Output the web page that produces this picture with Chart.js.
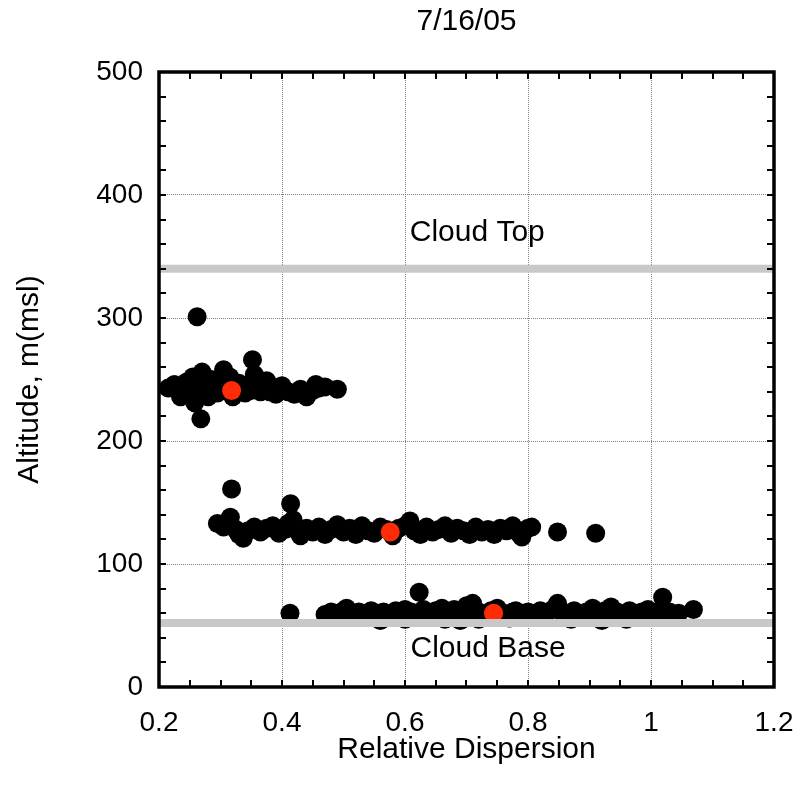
<!DOCTYPE html>
<html>
<head>
<meta charset="utf-8">
<style>
  html, body { margin: 0; padding: 0; background: #ffffff; }
  #wrap { width: 801px; height: 799px; position: relative; }
</style>
<script src="https://cdn.jsdelivr.net/npm/chart.js@4.4.1/dist/chart.umd.min.js"></script>
</head>
<body>
<div id="wrap"><canvas id="c" width="801" height="799"></canvas></div>
<script>
// ---- Data ----
const chartTitle = "7/16/05";
const xAxisTitle = "Relative Dispersion";
const yAxisTitle = "Altitude, m(msl)";

const xTicks = [0.2, 0.4, 0.6, 0.8, 1.0, 1.2];
const yTicks = [0, 100, 200, 300, 400, 500];

// Black points: cluster near 240 m
const upperX = [0.215,0.225,0.235,0.235,0.24,0.245,0.25,0.255,0.258,0.262,0.265,0.268,0.27,0.275,0.28,0.285,0.29,0.295,0.30,0.305,0.31,0.315,0.32,0.325,0.33,0.335,0.34,0.345,0.35,0.352,0.355,0.36,0.365,0.37,0.375,0.38,0.385,0.39,0.395,0.40,0.41,0.42,0.43,0.44,0.45,0.455,0.46,0.47,0.49];
const upperY = [243,246,241,236,238,248,244,252,231,301,240,218,256,247,236,250,242,239,246,258,244,252,236,240,247,243,239,245,241,266,254,246,240,243,249,240,244,238,242,245,240,238,242,236,241,246,243,244,242];

// Black points: cluster near 128 m
const middleX = [0.295,0.305,0.316,0.318,0.325,0.33,0.337,0.345,0.355,0.365,0.375,0.385,0.395,0.405,0.41,0.414,0.418,0.425,0.43,0.44,0.45,0.46,0.47,0.48,0.49,0.50,0.51,0.52,0.53,0.54,0.55,0.56,0.57,0.58,0.59,0.60,0.608,0.615,0.625,0.635,0.645,0.655,0.665,0.675,0.685,0.695,0.705,0.715,0.725,0.735,0.745,0.755,0.765,0.775,0.785,0.79,0.80,0.806,0.848,0.91];
const middleY = [133,130,138,161,128,124,121,127,130,126,129,131,125,128,133,149,136,127,123,129,126,130,124,128,132,126,129,124,131,127,125,130,128,123,129,131,135,127,124,130,126,128,131,125,129,127,124,130,126,128,124,129,127,131,125,122,129,130,126,125];

// Black points: cluster near 60 m
const lowerX = [0.413,0.47,0.48,0.49,0.50,0.505,0.515,0.525,0.535,0.545,0.555,0.56,0.565,0.575,0.585,0.595,0.60,0.60,0.61,0.615,0.623,0.63,0.64,0.65,0.66,0.665,0.67,0.68,0.69,0.69,0.70,0.705,0.71,0.72,0.72,0.73,0.74,0.75,0.76,0.77,0.775,0.78,0.79,0.80,0.81,0.82,0.83,0.84,0.848,0.855,0.865,0.87,0.875,0.885,0.895,0.905,0.915,0.92,0.925,0.935,0.945,0.955,0.96,0.965,0.975,0.985,0.995,1.005,1.015,1.019,1.03,1.045,1.069];
const lowerY = [60,59,61,60,62,64,60,61,58,62,60,54,61,59,62,60,63,55,61,58,77,63,60,62,64,55,61,63,60,54,66,62,68,61,55,59,62,64,60,56,61,62,60,61,59,62,60,63,68,61,60,55,62,59,61,64,60,54,62,65,61,59,55,62,60,61,63,60,62,73,61,60,63];

// Red (mean) points
const meanX = [0.318, 0.576, 0.744];
const meanY = [241, 126, 60];

// Cloud boundaries (m)
const cloudTop = 340;
const cloudBase = 52;
const boundaryLabels = ["Cloud Top", "Cloud Base"];
const boundaryLabelX = [0.7175, 0.735];
const boundaryLabelY = [369, 31];

// ---- build datasets ----
function pts(xs, ys) { return xs.map((x, i) => ({ x: x, y: ys[i] })); }
const blackPts = pts(upperX, upperY).concat(pts(middleX, middleY)).concat(pts(lowerX, lowerY));
const redPts = pts(meanX, meanY);

const FONT = "'Liberation Sans', Arial, Helvetica, sans-serif";

const framePlugin = {
  id: 'framePlugin',
  afterDatasetsDraw(chart) {
    const ctx = chart.ctx;
    const xs = chart.scales.x, ys = chart.scales.y;
    const a = chart.chartArea;
    ctx.save();
    ctx.fillStyle = '#000';
    ctx.font = '30px ' + FONT;
    ctx.textAlign = 'center';
    ctx.textBaseline = 'middle';
    boundaryLabels.forEach((t, i) => {
      ctx.fillText(t, xs.getPixelForValue(boundaryLabelX[i]), ys.getPixelForValue(boundaryLabelY[i]));
    });
    ctx.strokeStyle = '#000';
    ctx.lineWidth = 2;
    const tl = 7;
    ctx.beginPath();
    for (let k = 0; k <= 20; k++) {
      const v = 0.2 + k * 0.05;
      const px = Math.round(xs.getPixelForValue(v));
      ctx.moveTo(px, a.bottom); ctx.lineTo(px, a.bottom - tl);
      ctx.moveTo(px, a.top); ctx.lineTo(px, a.top + tl);
    }
    for (let k = 0; k <= 25; k++) {
      const py = Math.round(ys.getPixelForValue(k * 20));
      ctx.moveTo(a.left, py); ctx.lineTo(a.left + tl, py);
      ctx.moveTo(a.right, py); ctx.lineTo(a.right - tl, py);
    }
    ctx.stroke();
    ctx.lineWidth = 3.5;
    ctx.strokeRect(a.left, a.top, a.right - a.left, a.bottom - a.top);
    ctx.restore();
  }
};

new Chart(document.getElementById('c'), {
  type: 'scatter',
  data: {
    datasets: [
      { label: 'Cloud Top', data: [{x: 0.2, y: cloudTop}, {x: 1.2, y: cloudTop}], showLine: true,
        borderColor: '#c8c8c8', borderWidth: 8, pointRadius: 0, order: 0 },
      { label: 'Cloud Base', data: [{x: 0.2, y: cloudBase}, {x: 1.2, y: cloudBase}], showLine: true,
        borderColor: '#c8c8c8', borderWidth: 8, pointRadius: 0, order: 0 },
      { label: 'Mean', data: redPts, backgroundColor: '#ff2a06', borderWidth: 0, pointRadius: 9.5, order: 1 },
      { label: 'Samples', data: blackPts, backgroundColor: '#000000', borderWidth: 0, pointRadius: 9.5, order: 2 }
    ]
  },
  options: {
    responsive: false,
    animation: false,
    devicePixelRatio: 1,
    layout: { padding: { left: 0, right: 27, top: 0, bottom: 0 } },
    plugins: {
      legend: { display: false },
      tooltip: { enabled: false },
      title: {
        display: true, text: chartTitle, fullSize: false, color: '#000',
        font: { family: FONT, size: 30, weight: 'normal' },
        padding: { top: 4, bottom: 32 }
      }
    },
    scales: {
      x: {
        type: 'linear', min: 0.2, max: 1.2,
        afterBuildTicks(scale) { scale.ticks = xTicks.map(v => ({ value: v })); },
        afterFit(scale) { scale.height = 112; scale.paddingLeft = 0; scale.paddingRight = 0; },
        ticks: {
          color: '#000', padding: 19,
          font: { family: FONT, size: 28 },
          callback: (v) => String(Number(Number(v).toFixed(1))),
          maxRotation: 0, autoSkip: false
        },
        grid: { color: '#808080', lineWidth: 1, drawTicks: false },
        border: { display: false, dash: [1, 1] },
        title: { display: true, text: xAxisTitle, color: '#000', font: { family: FONT, size: 30 }, padding: 31 }
      },
      y: {
        type: 'linear', min: 0, max: 500,
        afterBuildTicks(scale) { scale.ticks = yTicks.map(v => ({ value: v })); },
        afterFit(scale) { scale.width = 159; scale.paddingTop = 0; scale.paddingBottom = 0; },
        ticks: { color: '#000', padding: 16, font: { family: FONT, size: 28 } },
        grid: { color: '#808080', lineWidth: 1, drawTicks: false },
        border: { display: false, dash: [1, 1] },
        title: { display: true, text: yAxisTitle, color: '#000', font: { family: FONT, size: 30 }, padding: 12 }
      }
    }
  },
  plugins: [framePlugin]
});
</script>
</body>
</html>
